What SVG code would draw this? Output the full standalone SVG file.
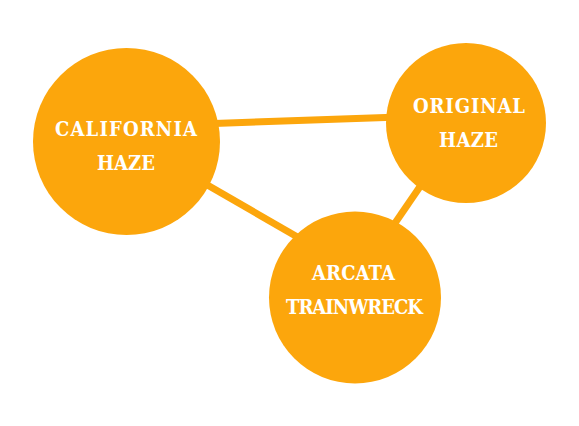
<svg xmlns="http://www.w3.org/2000/svg" width="579" height="426" viewBox="0 0 579 426">
<style>
.node{fill:#FCA60C}
.edge{stroke:#FCA60C;stroke-width:7;fill:none}
.lbl{fill:#fff;font-family:"DejaVu Serif Condensed","DejaVu Serif",serif;font-weight:bold;font-size:20px;text-anchor:middle}
</style>
<rect width="579" height="426" fill="#fff"/>
<g id="connectors">
<line class="edge" x1="200" y1="124" x2="400" y2="117"/>
<line class="edge" x1="190" y1="175" x2="320" y2="250"/>
<line class="edge" x1="380" y1="245" x2="430" y2="172"/>
</g>
<g id="california-haze">
<circle class="node" cx="126.5" cy="141.5" r="93.5"/>
<text class="lbl" x="126" y="136" textLength="142" lengthAdjust="spacing">CALIFORNIA</text>
<text class="lbl" x="126" y="170" textLength="58" lengthAdjust="spacing">HAZE</text>
</g>
<g id="original-haze">
<circle class="node" cx="466" cy="123" r="80"/>
<text class="lbl" x="469" y="113" textLength="112" lengthAdjust="spacing">ORIGINAL</text>
<text class="lbl" x="468.5" y="147" textLength="59" lengthAdjust="spacing">HAZE</text>
</g>
<g id="arcata-trainwreck">
<circle class="node" cx="355" cy="297.5" r="86"/>
<text class="lbl" x="353.5" y="280" textLength="83" lengthAdjust="spacing">ARCATA</text>
<text class="lbl" x="354.5" y="314" textLength="137" lengthAdjust="spacing">TRAINWRECK</text>
</g>
</svg>
